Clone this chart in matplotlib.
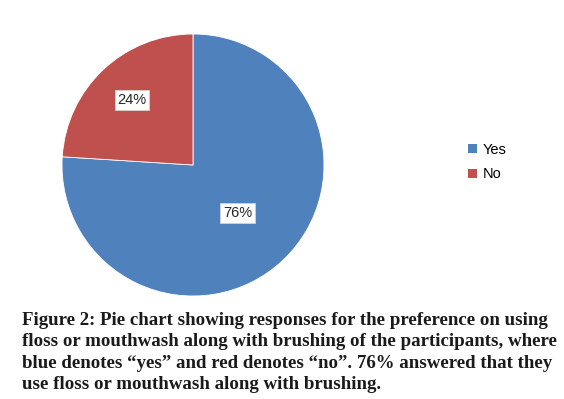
import numpy as np
import matplotlib.pyplot as plt
from matplotlib.patches import Patch

labels = ['Yes', 'No']
values = [76, 24]
colors = ['#4F81BD', '#C0504D']
label_dist = [0.50, 0.68]

caption = ('Figure 2: Pie chart showing responses for the preference on using\n'
           'floss or mouthwash along with brushing of the participants, where\n'
           'blue denotes \u201cyes\u201d and red denotes \u201cno\u201d. 76% answered that they\n'
           'use floss or mouthwash along with brushing.')

fig = plt.figure(figsize=(5.64, 3.99), dpi=100)
ax = fig.add_axes([62 / 564, (399 - 296) / 399, 262 / 564, 262 / 399])

wedges, _ = ax.pie(values, colors=colors, startangle=90, counterclock=False,
                   wedgeprops=dict(edgecolor='white', linewidth=0.6))
ax.set_xlim(-1, 1)
ax.set_ylim(-1, 1)
ax.set_aspect('equal')

# percentage labels in white boxes
for w, v, d in zip(wedges, values, label_dist):
    ang = np.deg2rad((w.theta1 + w.theta2) / 2)
    ax.text(d * np.cos(ang), d * np.sin(ang), f'{v}%', ha='center', va='center',
            fontsize=10.5, color='#262626', family='Liberation Sans',
            bbox=dict(facecolor='white', edgecolor='#d8d8d8', linewidth=0.5,
                      boxstyle='square,pad=0.2'))

handles = [Patch(facecolor=c, edgecolor='none') for c in colors]
fig.legend(handles, labels, loc='center left', bbox_to_anchor=(455 / 564, 1 - 162 / 399),
           frameon=False, handlelength=0.6, handleheight=0.6,
           handletextpad=0.4, labelspacing=0.75, prop={'family': 'Liberation Sans', 'size': 10.5})

cap = fig.text(22 / 564, 1 - 312 / 399, caption, ha='left', va='top', fontsize=12.5,
               family='Liberation Serif', fontweight='bold', color='#1a1a1a', linespacing=1.34)

# fit the caption width to the reference (about 533 px)
r = fig.canvas.get_renderer()
wpx = cap.get_window_extent(r).width
cap.set_fontsize(12.5 * 533 / wpx)

fig.savefig('out.png', dpi=100)
